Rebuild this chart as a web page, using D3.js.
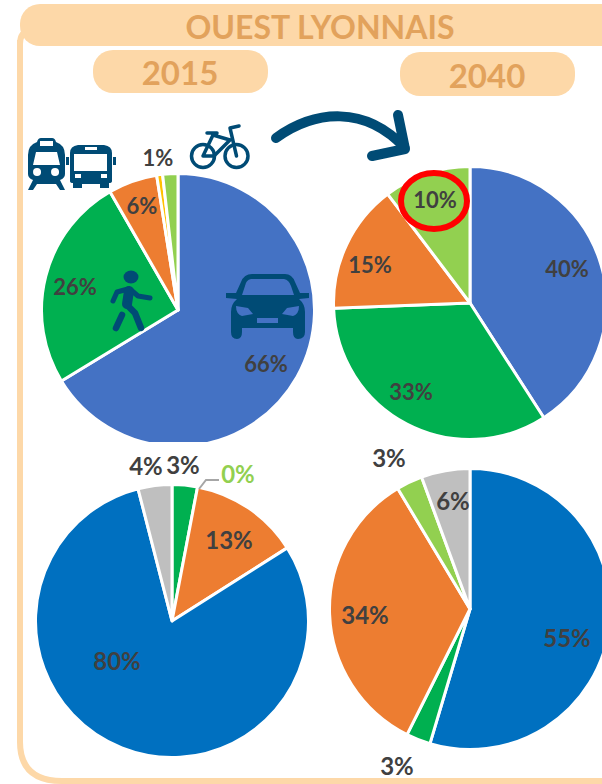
<!DOCTYPE html>
<html><head><meta charset="utf-8">
<script src="https://cdn.jsdelivr.net/npm/d3@7"></script>
<style>html,body{margin:0;padding:0;background:#fff;overflow:hidden}svg{display:block}text{font-family:Lato,"Open Sans",sans-serif;font-weight:700}</style>
</head><body><svg id="c" width="602" height="784"></svg>
<script>
const title = "OUEST LYONNAIS";
const years = ["2015", "2040"];

const modes = ["Voiture", "Marche", "TC", "Autre", "Vélo"];
const share2015 = [66.3, 25.4, 5.8, 0.7, 1.8];
const share2040 = [40.9, 33.5, 15.3, 0, 10.3];
const modeColors = ["#4472C4", "#00B050", "#ED7D31", "#FFC000", "#92D050"];

const energy = ["Vert", "Vert clair", "Orange", "Bleu", "Gris"];
const energy2015 = [3, 0, 13, 80, 4];
const energy2015Colors = ["#00B050", "#92D050", "#ED7D31", "#0070C0", "#BFBFBF"];
const energy2040Names = ["Bleu", "Vert", "Orange", "Vert clair", "Gris"];
const energy2040 = [54.6, 2.8, 34, 3, 5.6];
const energy2040Colors = ["#0070C0", "#00B050", "#ED7D31", "#92D050", "#BFBFBF"];

const labels2015 = ["66%", "26%", "6%", "1%"];
const labels2040 = ["40%", "33%", "15%", "10%"];
const labelsE2015 = ["80%", "13%", "4%", "3%"];
const labelsE2040 = ["55%", "34%", "6%", "3%", "3%"];

const ORANGE = "#FDD8A8", YEAR = "#E2A25C", INK = "#404040", NAVY = "#004B75";
const svg = d3.select("#c");

// frame
svg.append("path").attr("d", "M20 44 Q20 32 30 30 M20 40 L20 742 Q20 781 62 781 L602 781")
  .attr("fill", "none").attr("stroke", ORANGE).attr("stroke-width", 6);
svg.append("rect").attr("x", 20).attr("y", 4).attr("width", 620).attr("height", 42).attr("rx", 20).attr("fill", ORANGE);
svg.append("rect").attr("x", 93).attr("y", 50).attr("width", 175).attr("height", 43).attr("rx", 20).attr("fill", ORANGE);
svg.append("rect").attr("x", 400).attr("y", 52).attr("width", 175).attr("height", 44).attr("rx", 20).attr("fill", ORANGE);
const txt = (t, x, y, s, c) => svg.append("text").text(t).attr("x", x).attr("y", y).attr("font-size", s)
  .attr("fill", c).attr("text-anchor", "middle").attr("dominant-baseline", "central");
txt(title, 320, 26, 32, YEAR);
txt(years[0], 180, 72, 33, YEAR);
txt(years[1], 487, 75, 33, YEAR);

// pies
function drawPie(values, colors, cx, cy, r) {
  const pie = d3.pie().sort(null)(values);
  const arc = d3.arc().innerRadius(0).outerRadius(r);
  svg.append("g").attr("transform", `translate(${cx},${cy})`).selectAll("path").data(pie).join("path")
    .filter(d => d.data > 0)
    .attr("d", arc).attr("fill", (d, i) => colors[d.index])
    .attr("stroke", "#fff").attr("stroke-width", 3).attr("stroke-linejoin", "round");
}
drawPie(share2015, modeColors, 178, 310, 136.5);
drawPie(share2040, modeColors, 470, 303, 136.5);
drawPie(energy2015, energy2015Colors, 172, 621, 136.5);
drawPie(energy2040, energy2040Colors, 470, 609, 140.5);

// clip bottom of first pie
svg.append("rect").attr("x", 100).attr("y", 442).attr("width", 160).attr("height", 12).attr("fill", "#fff");

// leader line for 0%
svg.append("path").attr("d", "M199 489 L206 480 L219 480").attr("fill", "none").attr("stroke", "#A6A6A6").attr("stroke-width", 2);

// labels
const place = (list, pos, size) => list.forEach((t, i) => txt(t, pos[i][0], pos[i][1], size, INK));
place(labels2015, [[266, 363], [75, 286], [142, 205], [158, 157]], 22);
place(labels2040, [[567, 268], [411, 391], [370, 264], [435, 199]], 22);
place(labelsE2015, [[117, 660], [229, 539], [146, 465], [183, 464]], 24);
place(labelsE2040, [[567, 637], [365, 614], [453, 500], [389, 457], [397, 765]], 24);
txt("0%", 238, 473, 24, "#92D050");

// highlight
svg.append("ellipse").attr("cx", 434).attr("cy", 201).attr("rx", 33).attr("ry", 28)
  .attr("fill", "none").attr("stroke", "#FF0000").attr("stroke-width", 6);

// arrow
svg.append("path").attr("d", "M276 138 C315 110 365 105 405 148 M398 115 L405 149 L372 156")
  .attr("fill", "none").attr("stroke", NAVY).attr("stroke-width", 10).attr("stroke-linecap", "round").attr("stroke-linejoin", "round");

// icons
const ic = svg.append("g").attr("fill", NAVY);
// car
ic.append("path").attr("fill-rule", "evenodd").attr("d",
 "M252 274 L285 274 Q292 274 295 282 L300 293 L309 293 L309 298 L299 299 Q305 304 305 312 L305 332 Q305 339 298 339 Q293 339 293 332 L293 328 L242 328 L242 332 Q242 339 237 339 Q231 339 231 332 L231 312 Q231 304 237 299 L226 298 L226 293 L236 293 L241 282 Q244 274 252 274 Z " +
 "M251 279 Q246 280 245 286 L242 295 L294 295 L291 286 Q289 280 284 279 Z " +
 "M236 306 L248 308 L253 314 L242 316 Q236 314 236 306 Z M299 306 L287 308 L282 314 L293 316 Q299 314 299 306 Z " +
 "M257 318 L278 318 L278 323 L257 323 Z");
// walker
ic.append("ellipse").attr("cx", 131).attr("cy", 277).attr("rx", 7.5).attr("ry", 6.5);
const walker = svg.append("g").attr("fill", "none").attr("stroke", NAVY).attr("stroke-linecap", "round").attr("stroke-linejoin", "round");
walker.append("path").attr("stroke-width", 5).attr("d", "M128 289 L117 292 L113 301 M131 290 L138 296 L150 298");
walker.append("path").attr("stroke-width", 10).attr("d", "M129 291 L127 304");
walker.append("path").attr("stroke-width", 6.5).attr("d", "M127 305 L135 313 L141 328 M122 315 L116 328");
// train
ic.append("path").attr("fill-rule", "evenodd").attr("d",
 "M41 138 L52 138 Q55 138 56 142 Q65 145 65 155 L65 174 Q65 178 60 180 L63 186 L65 190 L60 190 L56 184 L37 184 L33 190 L28 190 L30 186 L33 180 Q28 178 28 174 L28 155 Q28 145 37 142 Q38 138 41 138 Z " +
 "M40 141 L40 146 L53 146 L53 141 Z M36 152 L33 165 L60 165 L57 152 Z M37 168 A4 4 0 1 0 37.1 176 A4 4 0 1 0 37 168 Z M55 168 A4 4 0 1 0 55.1 176 A4 4 0 1 0 55 168 Z");
// bus
ic.append("path").attr("fill-rule", "evenodd").attr("d",
 "M78 145 L104 145 Q112 146 112 153 L112 181 Q112 183 109 183 L109 188 L100 188 L100 184 L82 184 L82 188 L73 188 L73 183 Q70 183 70 181 L70 153 Q70 146 78 145 Z " +
 "M85 147 L85 150 L97 150 L97 147 Z M74 154 L74 171 L107 171 L107 154 Z M75 174 L75 178 L81 178 L81 174 Z M101 174 L101 178 L107 178 L107 174 Z");
ic.append("rect").attr("x", 66).attr("y", 157).attr("width", 3).attr("height", 8);
ic.append("rect").attr("x", 113).attr("y", 157).attr("width", 3).attr("height", 8);
// bike
const bike = svg.append("g").attr("fill", "none").attr("stroke", NAVY);
bike.append("circle").attr("cx", 203).attr("cy", 156).attr("r", 11.5).attr("stroke-width", 3.5);
bike.append("circle").attr("cx", 236.5).attr("cy", 156).attr("r", 11.5).attr("stroke-width", 3.5);
bike.append("path").attr("stroke-width", 3.5).attr("stroke-linejoin", "round").attr("stroke-linecap", "round")
  .attr("d", "M203 156 L213 135 L230 140 L214 156 Z M207 133 L217 133 M236.5 156 L230 128 L239 126");
</script></body></html>
